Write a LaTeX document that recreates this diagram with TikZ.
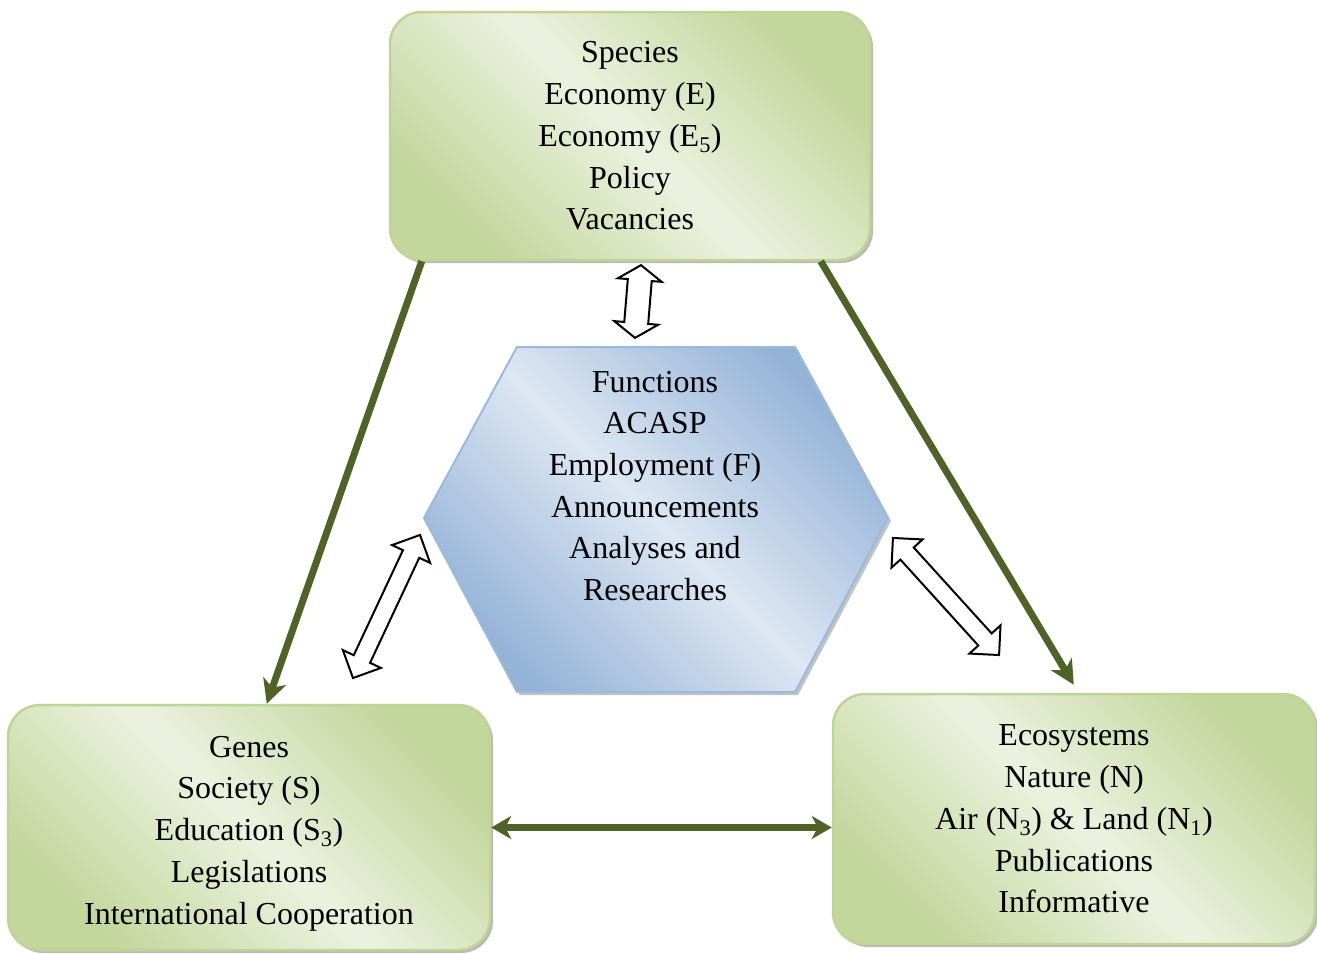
\documentclass[tikz,border=0pt]{standalone}
\usepackage{fontspec}
\setmainfont{Liberation Serif}
\usetikzlibrary{arrows.meta,shadows}
\usepackage{xcolor}

\definecolor{boxdark}{RGB}{195,214,155}
\definecolor{boxlight}{RGB}{236,242,224}
\definecolor{boxline}{RGB}{192,212,152}
\definecolor{hexdark}{RGB}{149,179,215}
\definecolor{hexlight}{RGB}{221,231,243}
\definecolor{hexline}{RGB}{155,185,220}
\definecolor{arrowgreen}{RGB}{79,98,40}

\tikzset{
  boxtext/.style={align=center, font=\fontsize{32}{41.7}\selectfont},
  greenbox/.style={draw=boxline, line width=2.5pt, rounded corners=32pt,
    top color=boxdark, bottom color=boxdark, middle color=boxlight,
    shading angle=-45, minimum width=480pt, minimum height=248pt, boxtext,
    drop shadow={shadow xshift=3pt, shadow yshift=-3pt, fill=black!45, opacity=0.6}},
  greenarrow/.style={draw=arrowgreen, line width=7pt,
    -{Stealth[length=24pt, width=24pt, inset=7pt]}},
  greenboth/.style={draw=arrowgreen, line width=7pt,
    {Stealth[length=20pt, width=23pt, inset=6pt]}-{Stealth[length=20pt, width=23pt, inset=6pt]}},
  hollow/.style={draw=black, line width=2pt, fill=white, line join=miter}
}

% hollow block arrow: centre, angle, length, head length, head half width, shaft half width
\newcommand{\hollowarrow}[6]{%
  \begin{scope}[shift={(#1)}, rotate=#2]
    \pgfmathsetmacro\halflen{#3/2}
    \pgfmathsetmacro\baselen{#3/2-#4}
    \draw[hollow] (-\halflen,0) -- (-\baselen,#5) -- (-\baselen,#6) -- (\baselen,#6)
      -- (\baselen,#5) -- (\halflen,0) -- (\baselen,-#5) -- (\baselen,-#6)
      -- (-\baselen,-#6) -- (-\baselen,-#5) -- cycle;
  \end{scope}}

\begin{document}
\begin{tikzpicture}[x=1pt, y=-1pt]
  \useasboundingbox (0,0) rectangle (1317,953);

  % Boxes
  \node[greenbox] (species) at (630,136)
    {Species\\Economy (E)\\Economy (E\textsubscript{5})\\Policy\\Vacancies};
  \node[greenbox, minimum width=482pt, minimum height=245pt,
    label={[boxtext, yshift=-6pt]center:{Genes\\Society (S)\\Education (S\textsubscript{3})\\Legislations\\International Cooperation}}]
    (genes) at (249,827.5) {};
  \node[greenbox, minimum width=482pt, minimum height=250pt] (eco) at (1074,819)
    {Ecosystems\\Nature (N)\\Air (N\textsubscript{3}) \& Land (N\textsubscript{1})\\Publications\\Informative};

  % Hexagon with shadow
  \fill[black!40, opacity=0.6, shift={(3,3)}]
    (517,347) -- (795,347) -- (888,518) -- (795,692) -- (517,692) -- (424,518) -- cycle;
  \path[draw=hexline, line width=2pt, top color=hexdark, bottom color=hexdark,
    middle color=hexlight, shading angle=-45]
    (517,347) -- (795,347) -- (888,518) -- (795,692) -- (517,692) -- (424,518) -- cycle;
  \node[boxtext] (functions) at (655,486)
    {Functions\\ACASP\\Employment (F)\\Announcements\\Analyses and\\Researches};

  % Green connectors
  \draw[greenarrow] ([xshift=33pt]species.south west) -- ([xshift=260pt]genes.north west);
  \draw[greenarrow] ([xshift=432pt]species.south west) -- ([xshift=242pt, yshift=8pt]eco.north west);
  \draw[greenboth] (genes.east) -- (eco.west |- genes.east);

  % Hollow double arrows
  \hollowarrow{638,301.5}{85.3}{73}{15}{22}{12}
  \hollowarrow{386.5,606.5}{64.9}{158}{21}{21}{9}
  \hollowarrow{946,596.5}{132.2}{158}{21}{21}{9}
\end{tikzpicture}
\end{document}
